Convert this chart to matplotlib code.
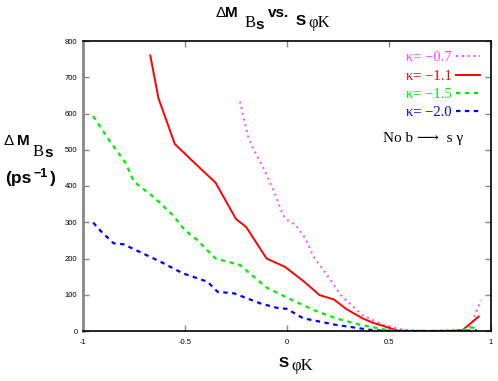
import numpy as np
import matplotlib
matplotlib.use("Agg")
import matplotlib.pyplot as plt

plt.rcParams['axes.unicode_minus'] = False

# kappa = -0.7 (dotted magenta)
x_k07 = [-0.23, -0.21, -0.19, -0.17, -0.11, -0.06, -0.02, 0.01, 0.04, 0.09, 0.13, 0.19, 0.27, 0.37, 0.47, 0.57, 0.7, 0.86, 0.90, 0.95]
y_k07 = [633, 582, 536, 508, 444, 380, 320, 302, 294, 256, 205, 159, 95, 44, 17, 3, 0, 3, 12, 85]

# kappa = -1.1 (solid red)
x_k11 = [-0.67, -0.63, -0.55, -0.45, -0.35, -0.25, -0.20, -0.10, -0.01, 0.08, 0.16, 0.23, 0.29, 0.37, 0.42, 0.50, 0.54, 0.6, 0.7, 0.8, 0.86, 0.94]
y_k11 = [760, 642, 516, 462, 409, 309, 287, 200, 177, 138, 99, 87, 61, 35, 23, 9, 1, 0, 0, 0, 2, 40]

# kappa = -1.5 (dashed green)
x_k15 = [-0.95, -0.87, -0.79, -0.75, -0.65, -0.56, -0.50, -0.44, -0.35, -0.23, -0.10, -0.01, 0.13, 0.24, 0.36, 0.49, 0.55, 0.7, 0.85, 0.91, 0.94]
y_k15 = [593, 525, 463, 412, 368, 320, 278, 251, 200, 182, 120, 95, 58, 35, 17, 3, 0, 0, 1, 10, 2]

# kappa = -2.0 (dashed blue)
x_k20 = [-0.95, -0.91, -0.85, -0.80, -0.62, -0.51, -0.39, -0.34, -0.26, -0.13, -0.05, 0.0, 0.08, 0.24, 0.41, 0.5, 0.7, 0.85, 0.93]
y_k20 = [299, 274, 242, 239, 191, 159, 136, 108, 104, 76, 64, 61, 35, 17, 3, 0, 0, 0, 2]

labels = ['κ= −0.7', 'κ= −1.1', 'κ= −1.5', 'κ= −2.0']
colors = ['#ff44ff', '#ff0000', '#00ee00', '#0000ff']

W, H = 498, 381
SANS = ['Liberation Sans', 'DejaVu Sans']
SERIF = ['Liberation Serif', 'DejaVu Serif']

fig = plt.figure(figsize=(W / 100, H / 100), dpi=100)
ax = fig.add_axes([83 / W, 1 - 331 / H, 408 / W, 290 / H])


# gnuplot-style enhanced text: place pieces at pixel positions (x left, y baseline from top)
def piece(x, y, s, family, size, weight='normal'):
    fig.text(x / W, 1 - y / H, s, ha='left', va='baseline',
             family=family, fontsize=size, fontweight=weight)


ax.plot(x_k07, y_k07, color=colors[0], lw=1.4, ls=(0, (1, 2)), label=labels[0])
ax.plot(x_k11, y_k11, color=colors[1], lw=1.4, ls='-', label=labels[1])
ax.plot(x_k15, y_k15, color=colors[2], lw=1.6, ls=(0, (2, 2)), label=labels[2])
ax.plot(x_k20, y_k20, color=colors[3], lw=1.6, ls=(0, (2, 2)), label=labels[3])

ax.set_xlim(-1, 1)
ax.set_ylim(0, 800)
ax.set_xticks([-1, -0.5, 0, 0.5, 1])
ax.set_xticklabels(['-1', '-0.5', '0', '0.5', '1'])
ax.set_yticks(range(0, 801, 100))
ax.tick_params(direction='in', length=4, width=1, color='#888888',
               labelsize=5.5, top=True, right=True)
ax.tick_params(axis='x', pad=6)
ax.tick_params(axis='y', pad=4)
for t in ax.get_xticklabels() + ax.get_yticklabels():
    t.set_family('Liberation Sans')
ax.spines['left'].set_color('#888888')
ax.spines['left'].set_linewidth(2)
for s in ['top', 'right', 'bottom']:
    ax.spines[s].set_linewidth(1.2)

leg = ax.legend(loc='upper right', bbox_to_anchor=(0.995, 0.995), frameon=False,
                markerfirst=False, labelcolor='linecolor', handlelength=1.65,
                handletextpad=0.3, labelspacing=0.35, borderaxespad=0.2,
                prop={'family': SERIF, 'size': 10.5})
ax.text(0.931, 0.665, 'No b ⟶  s γ', transform=ax.transAxes, ha='right', va='center',
        fontsize=11, family=SERIF)

# title: Delta M_{B_s} vs. S_{phi K}
piece(215, 17, 'Δ', SANS, 11)
piece(225, 17, 'M', SANS, 11, 'bold')
piece(245, 27, 'B', SERIF, 12)
piece(255, 29, 's', SANS, 11, 'bold')
piece(268, 17, 'vs.', SANS, 11, 'bold')
piece(296, 25, 'S', SANS, 11, 'bold')
piece(308, 27, 'φK', SERIF, 12)

# y label
piece(4, 145, 'Δ', SANS, 11)
piece(17, 145, 'M', SANS, 11, 'bold')
piece(33, 156, 'B', SERIF, 12)
piece(44, 157, 's', SANS, 11, 'bold')
piece(5, 183, '(ps', SANS, 12.5, 'bold')
piece(33, 177, '−1', SANS, 9, 'bold')
piece(50, 183, ')', SANS, 12.5, 'bold')

# x label
piece(279, 367, 'S', SANS, 11, 'bold')
piece(291, 370, 'φK', SERIF, 12)

fig.savefig('out.png', dpi=100)
